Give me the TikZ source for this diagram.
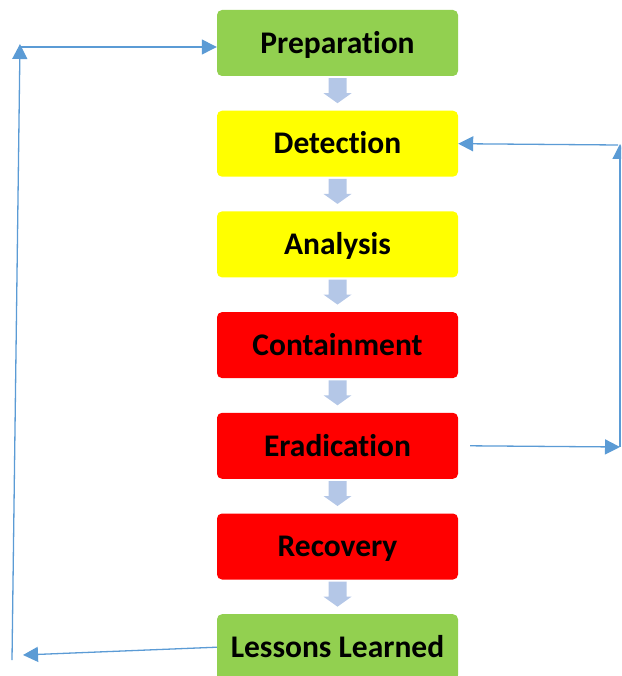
\documentclass[tikz,border=0pt]{standalone}
\usepackage{fontspec}
\setmainfont{Carlito}[Ligatures=NoCommon]
\usetikzlibrary{positioning,arrows.meta}
\definecolor{irgreen}{HTML}{92D050}
\definecolor{iryellow}{HTML}{FFFF00}
\definecolor{irred}{HTML}{FF0000}
\definecolor{irflow}{HTML}{B4C7E7}
\definecolor{irline}{HTML}{5B9BD5}

\begin{document}
\begin{tikzpicture}[
  x=1pt, y=-1pt,
  font=\fontsize{31.5}{34}\selectfont\bfseries,
  phase/.style={rounded corners=5pt, minimum width=241pt, minimum height=66pt, inner sep=0pt,
    text height=20.5pt, text depth=0pt, align=center},
  prepphase/.style={phase, fill=irgreen},
  warnphase/.style={phase, fill=iryellow},
  actphase/.style={phase, fill=irred},
  link/.style={draw=irline, line width=1.3pt, -{Triangle[length=15pt, width=15pt]}}
]
\useasboundingbox (0,0) rectangle (621,676);
\clip (0,0) rectangle (621,676);

\node[prepphase] (prep) at (337.5,43) {Preparation};
\node[warnphase, below=34.3pt of prep] (detect) {Detection};
\node[warnphase, below=34.3pt of detect] (analysis) {Analysis};
\node[actphase, below=34.3pt of analysis] (contain) {Containment};
\node[actphase, below=34.3pt of contain] (erad) {Eradication};
\node[actphase, below=34.3pt of erad] (recover) {Recovery};
\node[prepphase, below=34.3pt of recover] (lessons) {Lessons Learned};

% block arrows between the phases
\foreach \a/\b in {prep/detect, detect/analysis, analysis/contain, contain/erad, erad/recover, recover/lessons}
  \fill[irflow] ([shift={(-9,2)}]\a.south) -- ++(18,0) -- ++(0,15) -- ++(5,0) -- ++(-14,10) -- ++(-14,-10) -- ++(5,0) -- cycle;

% feedback loops
\coordinate (lbot) at (12,660);
\coordinate (ltop) at (20,44);
\coordinate (lmid) at (20,47);
\coordinate (lend) at (23,655);
\coordinate (rbot) at (620,447);
\coordinate (rtop) at (620,144);
\coordinate (rmid) at (618,145);

\draw[link] (lessons.west) -- (lend);
\draw[link] (lbot) -- (ltop);
\draw[link] (lmid) -- ([yshift=-4pt]prep.west);
\draw[link] ([xshift=12pt]erad.east) -- (rbot);
\draw[link] (rbot) -- (rtop);
\draw[link] (rmid) -- (detect.east);
\end{tikzpicture}
\end{document}
